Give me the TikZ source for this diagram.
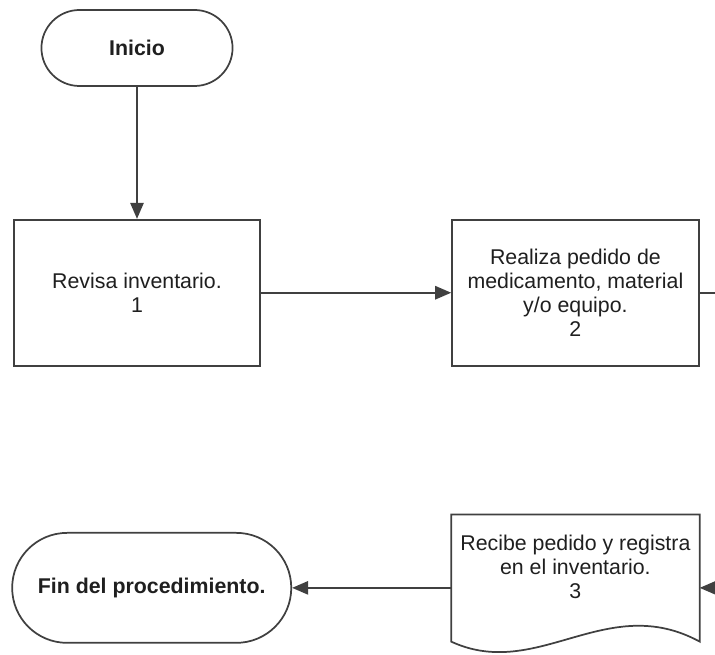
\documentclass[tikz,border=0pt]{standalone}
\usepackage{fontspec}
\setmainfont{Liberation Sans}
\usepackage{tikz}
\usetikzlibrary{positioning, arrows.meta, shapes.misc, calc}
\definecolor{ink}{HTML}{1F1F1F}
\definecolor{edge}{HTML}{404040}
\tikzset{
  terminal/.style = {rounded rectangle, draw=edge, line width=1.3pt, fill=white,
                     align=center, text=ink, font=\fontsize{16}{18}\selectfont\bfseries},
  process/.style  = {rectangle, draw=edge, line width=1.3pt, fill=white,
                     minimum width=185pt, minimum height=109.5pt,
                     align=center, text=ink, font=\fontsize{16}{18}\selectfont},
  doctext/.style  = {rectangle, minimum width=186pt, minimum height=78pt,
                     align=center, text=ink, font=\fontsize{16}{18}\selectfont},
  docshape/.style = {draw=edge, line width=1.3pt},
  link/.style     = {draw=edge, line width=1.3pt},
  ar/.style       = {-{Triangle[length=12pt,width=10pt]}, line width=1.3pt, draw=edge, color=edge},
}
\begin{document}
\begin{tikzpicture}
  \useasboundingbox (0,0) rectangle (536.25pt,-491.25pt);

  \node[terminal, minimum width=150pt, minimum height=57pt] (inicio) at (102.75pt,-36pt) {Inicio};

  \node[process, below=99pt of inicio] (revisa) {Revisa inventario.\\1};
  \node[process, right=142.5pt of revisa] (pedido)
       {Realiza pedido de\\medicamento, material\\y/o equipo.\\2};

  \draw[ar] (inicio) -- (revisa);
  \draw[ar] (revisa) -- (pedido);

  \coordinate (salida) at ($(pedido.east)+(13.5pt,0)$);
  \draw[link] (pedido) -- (salida);

  % documento con borde ondulado
  \node[doctext, below=111pt of pedido] (recibe)
       {Recibe pedido y registra\\en el inventario.\\3};
  \draw[docshape] (recibe.north west) -- (recibe.north east) -- ++(0,-95.25pt)
       .. controls +(-70pt,38pt) and +(65pt,-30pt) ..
       ($(recibe.north west)+(0,-95.25pt)$) -- cycle;

  \node[terminal, minimum width=216pt, minimum height=82.5pt, left=119.25pt of recibe, yshift=-15.75pt] (fin)
       {Fin del procedimiento.};

  \coordinate (entrada) at ($(fin.east -| pedido.east)+(13.5pt,0)$);
  \draw[ar] (entrada) -- (entrada -| recibe.east);
  \draw[ar] (fin.east -| recibe.west) -- (fin.east);

\end{tikzpicture}
\end{document}
